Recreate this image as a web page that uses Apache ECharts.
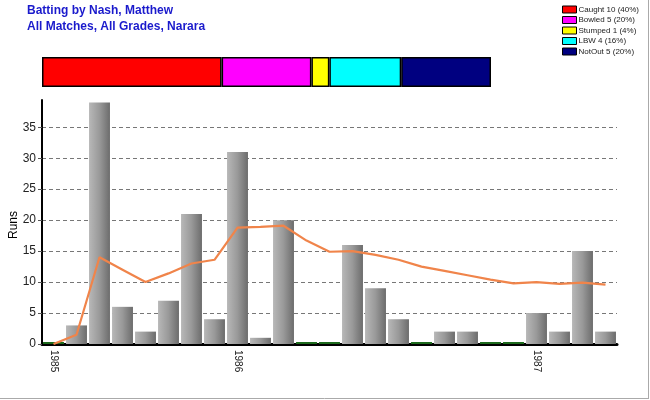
<!DOCTYPE html>
<html>
<head>
<meta charset="utf-8">
<script src="https://cdn.jsdelivr.net/npm/echarts@6/dist/echarts.min.js"></script>
<style>
html,body{margin:0;padding:0;background:#fff;}
#chart{width:650px;height:400px;}
</style>
</head>
<body>
<div id="chart"></div>
<script>
// ---- data ----
var innings = ["1","2","3","4","5","6","7","8","9","10","11","12","13","14","15","16","17","18","19","20","21","22","23","24","25"];
var tickLabels = ["1985","","","","","","","","1986","","","","","","","","","","","","","1987","","",""];
var runs = [0,3,39,6,2,7,21,4,31,1,20,0,0,16,9,4,0,2,2,0,0,5,2,15,2];
var average = [0,1.5,14,12,10,11.4,13,13.6,18.8,18.9,19.1,16.7,14.9,15,14.4,13.6,12.5,11.8,11.1,10.4,9.8,10,9.7,9.9,9.6];
var dismissalNames = ["Caught 10 (40%)","Bowled 5 (20%)","Stumped 1 (4%)","LBW 4 (16%)","NotOut 5 (20%)"];
var dismissalCounts = [10,5,1,4,5];
var dismissalColors = ["#ff0000","#ff00ff","#ffff00","#00ffff","#000080"];
var titleLines = ["Batting by Nash, Matthew","All Matches, All Grades, Narara"];
var yAxisTitle = "Runs";

var chart = echarts.init(document.getElementById('chart'), null, {renderer:'canvas'});

var barGradient = new echarts.graphic.LinearGradient(0,0,1,0,[
  {offset:0,color:'#b8b8b8'},
  {offset:0.5,color:'#999999'},
  {offset:1,color:'#6c6c6c'}
]);

var stripSeries = dismissalNames.map(function(n,i){
  return {
    name:n, type:'bar', stack:'d', xAxisIndex:1, yAxisIndex:1,
    barWidth:'100%',
    data:[dismissalCounts[i]],
    itemStyle:{color:dismissalColors[i], borderColor:'#000', borderWidth:1.5},
    silent:true
  };
});

var option = {
  animation:false,
  backgroundColor:'#fff',
  title:{
    text: titleLines.join('\n'),
    left:27, top:3, padding:0,
    textStyle:{fontFamily:'Arial, Liberation Sans', fontSize:12, fontWeight:'bold', color:'#1a1acc', lineHeight:16}
  },
  legend:{
    orient:'vertical', left:562, top:5, padding:0,
    itemWidth:14, itemHeight:7, itemGap:1.5,
    icon:'rect',
    data:dismissalNames,
    textStyle:{fontFamily:'Arial, Liberation Sans', fontSize:8, color:'#222', padding:[0,0,0,-3], lineHeight:9},
    itemStyle:{borderColor:'#000', borderWidth:1}
  },
  grid:[
    {left:42, right:33, top:100, bottom:56, containLabel:false, outerBoundsMode:'none'},
    {left:42, top:57, width:449, height:30, outerBoundsMode:'none'}
  ],
  xAxis:[
    {
      type:'category', gridIndex:0, data:innings,
      boundaryGap:true,
      axisLine:{lineStyle:{color:'#000', width:3}},
      axisTick:{alignWithLabel:true, length:5, lineStyle:{color:'#555', width:1}},
      axisLabel:{
        interval:0, rotate:-90, fontFamily:'Arial, Liberation Sans', fontSize:10, color:'#222', margin:6,
        formatter:function(v,i){return tickLabels[i];}
      },
      splitLine:{show:false}
    },
    {type:'value', gridIndex:1, min:0, max:25, show:false}
  ],
  yAxis:[
    {
      type:'value', gridIndex:0, min:0, max:39.4, interval:5,
      axisLine:{show:true, lineStyle:{color:'#000', width:2}},
      axisTick:{show:true, length:4, lineStyle:{color:'#555'}},
      axisLabel:{fontFamily:'Arial, Liberation Sans', fontSize:12, color:'#222', margin:6,
        showMaxLabel:false},
      splitLine:{show:true, showMaxLine:false, lineStyle:{color:'#777', type:[4,3], width:1}}
    },
    {type:'category', gridIndex:1, data:['d'], show:false}
  ],
  series:[
    {
      name:'Runs', type:'bar', xAxisIndex:0, yAxisIndex:0,
      data:runs,
      barCategoryGap:'9%',
      barMinHeight:2,
      itemStyle:{color:function(p){return p.value===0 ? '#1d6b1d' : barGradient;}},
      silent:true
    },
    {
      name:'Average', type:'line', xAxisIndex:0, yAxisIndex:0,
      data:average, symbol:'none',
      lineStyle:{color:'#f0844a', width:2.2},
      silent:true, z:5
    }
  ].concat(stripSeries),
  graphic:[
    {type:'text', x:14, y:225, rotation:Math.PI/2,
      style:{text:yAxisTitle, fontFamily:'Arial, Liberation Sans', fontSize:12, fill:'#000', align:'center', verticalAlign:'middle'}, silent:true},
    {type:'line', shape:{x1:648.5,y1:0,x2:648.5,y2:398.5}, style:{stroke:'#aaaaaa', lineWidth:1}, silent:true},
    {type:'line', shape:{x1:0,y1:398.5,x2:649,y2:398.5}, style:{stroke:'#aaaaaa', lineWidth:1}, silent:true}
  ]
};
chart.setOption(option);
</script>
</body>
</html>
